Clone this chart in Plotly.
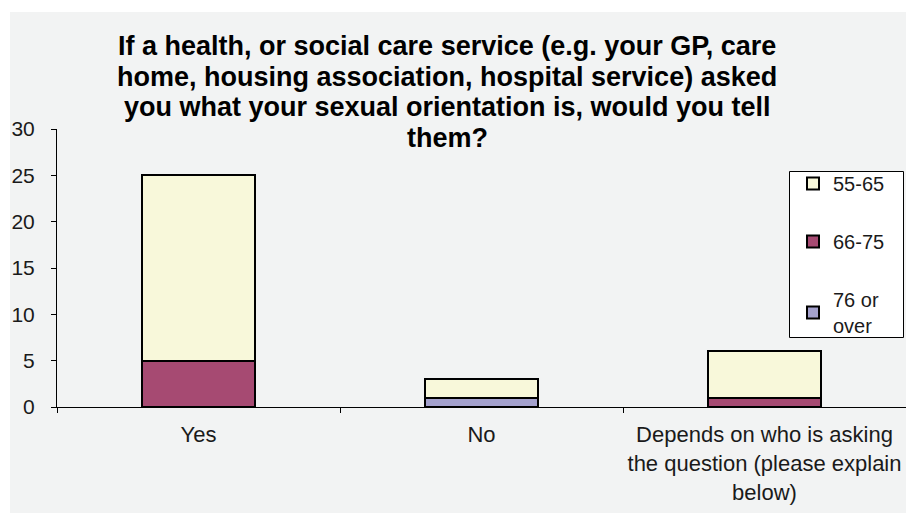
import plotly.graph_objects as go

# Survey answers by age band (stacked counts)
categories = ["Yes", "No", "Depends on who is asking<br>the question (please explain<br>below)"]
age_76_plus = [0, 1, 0]
age_66_75 = [5, 0, 1]
age_55_65 = [20, 2, 5]

series_names = ["76 or<br>over", "66-75", "55-65"]
series_values = [age_76_plus, age_66_75, age_55_65]
series_colors = ["#A4A1CD", "#A64A72", "#F8F8DA"]
legend_ranks = [3, 2, 1]

title_lines = [
    "If a health, or social care service (e.g. your GP, care",
    "home, housing association, hospital service) asked",
    "you what your sexual orientation is, would you tell",
    "them?",
]

W, H = 906, 513
L, R, T, B = 57, 0, 129, 106
plot_w = W - L - R
plot_h = H - T - B


def px_x(x):
    return (x - L) / plot_w


def px_y(y):
    return (H - B - y) / plot_h


fig = go.Figure()
for name, vals, color, rank in zip(series_names, series_values, series_colors, legend_ranks):
    fig.add_trace(go.Bar(
        x=categories, y=vals, name=name, legendgroup=name, legendrank=rank,
        marker=dict(color=color, line=dict(color="black", width=2)),
        width=0.4,
    ))

annotations = []
centers = [46, 76.5, 107, 137.5]
for line, cy in zip(title_lines, centers):
    annotations.append(dict(
        text="<b>" + line + "</b>", x=px_x(447), y=px_y(cy),
        xref="paper", yref="paper", xanchor="center", yanchor="middle",
        showarrow=False, font=dict(family="Liberation Sans, Arial, sans-serif", size=27, color="black"),
    ))

fig.update_layout(
    width=W, height=H,
    margin=dict(l=L, r=R, t=T, b=B),
    barmode="stack",
    paper_bgcolor="white",
    plot_bgcolor="rgba(0,0,0,0)",
    font=dict(family="Liberation Sans, Arial, sans-serif", size=22, color="#1a1a1a"),
    showlegend=True,
    legend=dict(
        x=px_x(793), y=px_y(164), xanchor="left", yanchor="top",
        bgcolor="rgba(0,0,0,0)", borderwidth=0,
        font=dict(size=20, color="#1a1a1a"),
        traceorder="grouped", tracegroupgap=29,
    ),
    annotations=annotations,
    shapes=[
        # chart area background
        dict(
            type="rect", xref="paper", yref="paper", layer="below",
            x0=px_x(10), x1=px_x(W + 2), y0=px_y(H + 2), y1=px_y(12),
            fillcolor="#F2F3F3", line=dict(width=0),
        ),
        # legend frame
        dict(
            type="rect", xref="paper", yref="paper", layer="above",
            x0=px_x(789.5), x1=px_x(903.5), y0=px_y(337.5), y1=px_y(171.5),
            fillcolor="white", line=dict(color="black", width=1),
        ),
    ],
)

fig.update_xaxes(
    showline=True, linecolor="black", linewidth=1,
    ticks="outside", tickson="boundaries", ticklen=5, tickcolor="black",
    showgrid=False, ticklabelstandoff=8,
)
fig.update_yaxes(
    range=[0, 30], dtick=5, showline=True, linecolor="black", linewidth=1,
    ticks="outside", ticklen=5, tickcolor="black",
    showgrid=False, zeroline=False, ticklabelstandoff=12,
    tickfont=dict(size=21),
)

fig.write_html("out.html")
